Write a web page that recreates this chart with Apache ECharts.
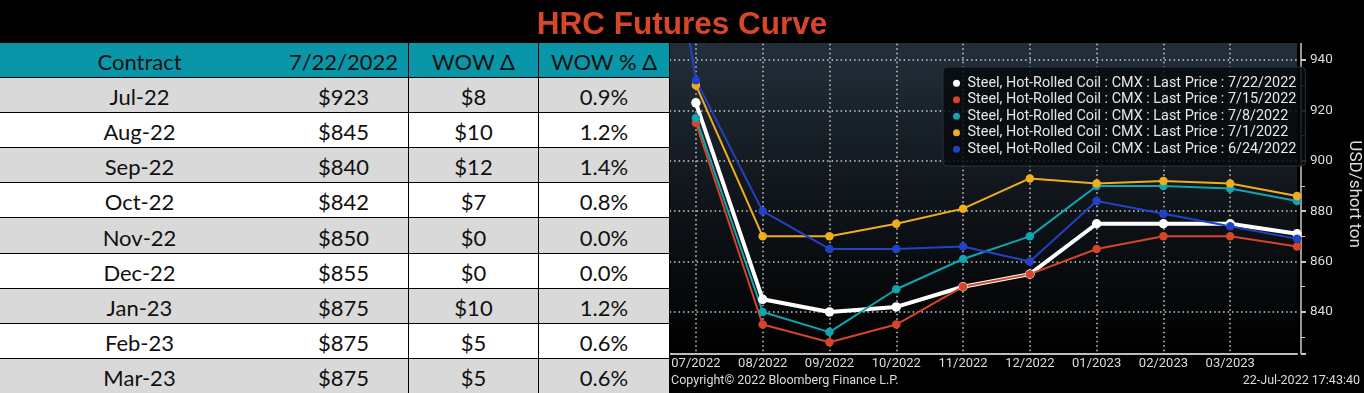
<!DOCTYPE html>
<html>
<head>
<meta charset="utf-8">
<script src="https://cdn.jsdelivr.net/npm/echarts@6/dist/echarts.min.js"></script>
<style>
  html, body { margin: 0; padding: 0; background: #000; width: 1364px; height: 393px; overflow: hidden; }
  #chart { position: absolute; left: 0; top: 0; width: 1364px; height: 393px; }
  #title { position: absolute; left: 0; top: 0; width: 1364px; height: 43px; background: #000; z-index: 5;
           font-family: "Liberation Sans", Arial, sans-serif; font-weight: bold; font-size: 31.5px; color: #D6462A;
           text-align: center; line-height: 46px; }
  #title span { position: absolute; left: 682px; transform: translateX(-50%); white-space: nowrap; }
  #table { position: absolute; left: 0; top: 43px; width: 670px; height: 350px; z-index: 4; background: #000; }
  .cell { position: absolute; box-sizing: border-box; border-right: 1px solid #000; border-bottom: 1px solid #000;
          display: flex; align-items: center; justify-content: center; font-family: Lato, "Open Sans", sans-serif;
          font-size: 22px; color: #111; padding-top: 3px; }
</style>
</head>
<body>
<div id="chart"></div>
<div id="title"><span>HRC Futures Curve</span></div>
<div id="table"></div>
<script>
// ---- Table data ----
const headers = ['Contract', '7/22/2022', 'WOW Δ', 'WOW % Δ'];
const contracts = ['Jul-22', 'Aug-22', 'Sep-22', 'Oct-22', 'Nov-22', 'Dec-22', 'Jan-23', 'Feb-23', 'Mar-23'];
const prices = ['$923', '$845', '$840', '$842', '$850', '$855', '$875', '$875', '$875'];
const wowDelta = ['$8', '$10', '$12', '$7', '$0', '$0', '$10', '$5', '$5'];
const wowPct = ['0.9%', '1.2%', '1.4%', '0.8%', '0.0%', '0.0%', '1.2%', '0.6%', '0.6%'];

// ---- Chart data ----
const categories = ['06/2022', '07/2022', '08/2022', '09/2022', '10/2022', '11/2022', '12/2022', '01/2023', '02/2023', '03/2023', '04/2023'];
const s0722 = [null, 923, 845, 840, 842, 850, 855, 875, 875, 875, 871];
const s0715 = [null, 915, 835, 828, 835, 850, 855, 865, 870, 870, 866];
const s0708 = [null, 917, 840, 832, 849, 861, 870, 890, 890, 889, 884];
const s0701 = [null, 930, 870, 870, 875, 881, 893, 891, 892, 891, 886];
const s0624 = [1093, 932, 880, 865, 865, 866, 860, 884, 879, 874, 869];
const seriesNames = [
  'Steel, Hot-Rolled Coil : CMX : Last Price : 7/22/2022',
  'Steel, Hot-Rolled Coil : CMX : Last Price : 7/15/2022',
  'Steel, Hot-Rolled Coil : CMX : Last Price : 7/8/2022',
  'Steel, Hot-Rolled Coil : CMX : Last Price : 7/1/2022',
  'Steel, Hot-Rolled Coil : CMX : Last Price : 6/24/2022'
];
const yLabels = [840, 860, 880, 900, 920, 940];

// ---- Build table ----
(function () {
  const t = document.getElementById('table');
  const colX = [0, 279, 409, 539];
  const colW = [280, 130, 130, 131];
  const headH = 34, rowH = 35.1;
  headers.forEach((h, j) => {
    const d = document.createElement('div');
    d.className = 'cell';
    d.style.left = colX[j] + 'px'; d.style.top = '0px';
    d.style.width = colW[j] + 'px'; d.style.height = (headH + 1) + 'px';
    d.style.background = '#0896A8';
    d.textContent = h;
    t.appendChild(d);
  });
  const cols = [contracts, prices, wowDelta, wowPct];
  for (let i = 0; i < contracts.length; i++) {
    const top = Math.round(headH + i * rowH);
    const bot = Math.round(headH + (i + 1) * rowH);
    for (let j = 0; j < 4; j++) {
      const d = document.createElement('div');
      d.className = 'cell';
      d.style.left = colX[j] + 'px';
      d.style.top = (top + 1) + 'px';
      d.style.width = colW[j] + 'px';
      d.style.height = (bot - top) + 'px';
      d.style.background = (i % 2 === 0) ? '#D9D9D9' : '#FFFFFF';
      d.textContent = cols[j][i];
      t.appendChild(d);
    }
  }
})();

// ---- Chart ----
const chart = echarts.init(document.getElementById('chart'), null, { renderer: 'canvas' });
const colors = ['#FFFFFF', '#D5452A', '#12A4AF', '#F0AE1C', '#2242C6'];
const dataSets = [s0722, s0715, s0708, s0701, s0624];
const gridColor = '#CFCFCF';
const txt = '#DCDCDC';

const option = {
  backgroundColor: '#000',
  animation: false,
  grid: {
    left: 629.1, right: 59, top: 34.8, bottom: 39.5, show: true, borderWidth: 0,
    backgroundColor: new echarts.graphic.LinearGradient(0, 0, 0, 1, [
      { offset: 0, color: '#23303C' },
      { offset: 0.45, color: '#12181E' },
      { offset: 1, color: '#000000' }
    ])
  },
  legend: {
    data: seriesNames,
    orient: 'vertical',
    left: 943, top: 67,
    icon: 'circle',
    itemWidth: 12, itemHeight: 7, itemGap: 0,
    selectedMode: false,
    padding: [8, 9, 8.5, 10],
    backgroundColor: 'rgba(6,9,13,0.85)',
    borderColor: '#2A3138', borderWidth: 1, borderRadius: 4,
    textStyle: { color: '#E6E6E6', fontFamily: 'Roboto', fontSize: 14.4, lineHeight: 16.5 }
  },
  xAxis: {
    type: 'category',
    data: categories,
    boundaryGap: false,
    axisLine: { lineStyle: { color: '#BDBDBD', width: 2 } },
    axisTick: { show: false },
    axisLabel: {
      color: txt, fontFamily: 'Roboto', fontSize: 13, margin: 4,
      interval: function (idx) { return idx > 0 && idx < categories.length - 1; }
    },
    splitLine: { show: true, lineStyle: { color: gridColor, width: 1.5, type: [1.5, 3] } }
  },
  yAxis: {
    type: 'value',
    position: 'right',
    min: 823.5, max: 950,
    splitNumber: 6,
    offset: 4,
    scale: true,
    axisLine: { show: true, lineStyle: { color: '#C8C8C8', width: 1.5 } },
    axisTick: { show: true, length: 5, lineStyle: { color: '#C8C8C8', width: 2 } },
    minorTick: { show: true, splitNumber: 2, length: 4, lineStyle: { color: '#C8C8C8', width: 1 } },
    axisLabel: {
      color: txt, fontFamily: 'Roboto', fontSize: 13.5, margin: 9,
      formatter: function (v) { return yLabels.indexOf(Math.round(v)) >= 0 && Math.abs(v - Math.round(v)) < 1e-6 ? String(Math.round(v)) : ''; }
    },
    splitLine: { show: true, lineStyle: { color: gridColor, width: 1.5, type: [1.5, 3] } },
    name: 'USD/short ton',
    nameLocation: 'middle',
    nameRotate: -90,
    nameGap: 45,
    nameTextStyle: { color: txt, fontFamily: 'Roboto', fontSize: 17 }
  },
  series: dataSets.map((d, i) => ({
    name: seriesNames[i],
    type: 'line',
    data: d,
    symbol: 'circle',
    symbolSize: i === 0 ? 9.5 : 8.5,
    showSymbol: true,
    connectNulls: false,
    color: colors[i],
    lineStyle: { color: colors[i], width: i === 0 ? 4 : 2 },
    itemStyle: { color: colors[i] },
    emphasis: { disabled: true }
  })),
  graphic: [
    { type: 'text', left: 671, top: 374.5, style: { text: 'Copyright© 2022 Bloomberg Finance L.P.', fill: txt, font: '12.5px Roboto' } },
    { type: 'text', right: 4, top: 374.5, style: { text: '22-Jul-2022 17:43:40', fill: txt, font: '12.5px Roboto' } }
  ]
};
chart.setOption(option);
</script>
</body>
</html>
